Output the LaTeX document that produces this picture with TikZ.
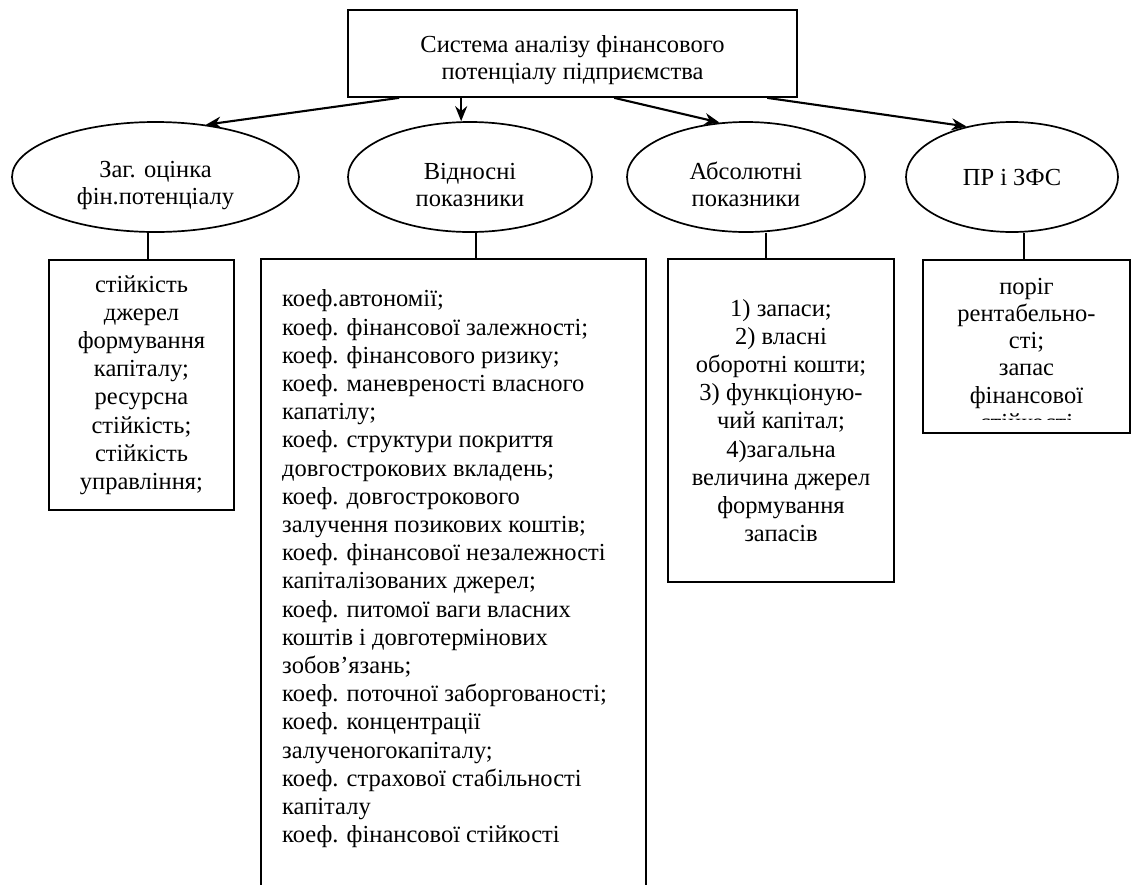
\documentclass[tikz,border=0pt]{standalone}
\usepackage{fontspec}
\setmainfont{Liberation Serif}
\usetikzlibrary{shapes.geometric,arrows.meta,calc}
\newcommand\pushdown[1]{\rule{0pt}{#1}}
\begin{document}
\begin{tikzpicture}[x=1pt,y=-1pt,
  every node/.style={font=\fontsize{24.5}{28.2}\selectfont},
  line/.style={line width=1.9pt},
  arr/.style={line width=2.1pt,-{Stealth[length=15pt,width=12pt]}},
  oval/.style={ellipse,draw,line width=1.7pt,inner sep=0pt,align=center,minimum height=110pt,font=\fontsize{24.5}{27}\selectfont},
  box/.style={rectangle,draw,line width=1.7pt,inner sep=0pt,align=center},
  txt/.style={inner sep=0pt}]
\clip (0,0) rectangle (1131,884);
% top box
\node[box,minimum width=449pt,minimum height=87pt,font=\fontsize{24.5}{27}\selectfont] (top) at (572.5,53.5)
  {\pushdown{31pt}Система аналізу фінансового\\потенціалу підприємства};
% ellipses
\node[oval,minimum width=287pt] (e1) at (155.5,177) {\pushdown{33pt}Заг. оцінка\\фін.потенціалу};
\node[oval,minimum width=244pt] (e2) at (470,177) {\pushdown{33pt}Відносні\\показники};
\node[oval,minimum width=238pt] (e3) at (746,177) {\pushdown{33pt}Абсолютні\\показники};
\node[oval,minimum width=212pt] (e4) at (1012,177) {ПР і ЗФС};
% arrows
\coordinate (s1) at ([xshift=52pt]top.south west);
\coordinate (s2) at ([xshift=114pt]top.south west);
\coordinate (s3) at ([xshift=267pt]top.south west);
\coordinate (s4) at ([xshift=420pt]top.south west);
\draw[arr] (s1) -- (e1.46);
\draw[arr] (s2) -- (s2 |- e2.north);
\draw[arr] (s3) -- (e3.116);
\draw[arr] (s4) -- (e4.132);
% boxes
\node[box,minimum width=185pt,minimum height=250pt] (b1) at (141.5,385)
  {стійкість\\джерел\\формування\\капіталу;\\ресурсна\\стійкість;\\стійкість\\управління;};
\node[box,minimum width=385pt,minimum height=700pt] (b2) at (453.5,609) {};
\node[txt,anchor=north west,align=left] (t2) at (282,287)
  {\strut коеф.автономії;\\
   коеф. фінансової залежності;\\
   коеф. фінансового ризику;\\
   коеф. маневреності власного\\
   капатілу;\\
   коеф. структури покриття\\
   довгострокових вкладень;\\
   коеф. довгострокового\\
   залучення позикових коштів;\\
   коеф. фінансової незалежності\\
   капіталізованих джерел;\\
   коеф. питомої ваги власних\\
   коштів і довготермінових\\
   зобов’язань;\\
   коеф. поточної заборгованості;\\
   коеф. концентрації\\
   залученогокапіталу;\\
   коеф. страхової стабільності\\
   капіталу\\
   коеф. фінансової стійкості};
\node[box,minimum width=226pt,minimum height=323pt] (b3) at (781,420.5)
  {1) запаси;\\2) власні\\оборотні кошти;\\3) функціоную-\\чий капітал;\\4)загальна\\величина джерел\\формування\\запасів};
\node[box,minimum width=207pt,minimum height=173pt] (b4) at (1026.5,346.5) {};
\begin{scope}
\clip (923,260) rectangle (1131,419);
\node[txt,anchor=north,align=center,font=\fontsize{24.5}{27.2}\selectfont] (t4) at (1026.5,275)
  {\strut поріг\\рентабельно-\\сті;\\запас\\фінансової\\стійкості};
\end{scope}
% connectors
\coordinate (c1) at (148,0);
\coordinate (c2) at (476,0);
\coordinate (c3) at (766,0);
\coordinate (c4) at (1024,0);
\draw[line] (c1 |- e1.south) -- (c1 |- b1.north);
\draw[line] (c2 |- e2.south) -- (c2 |- b2.north);
\draw[line] (c3 |- e3.south) -- (c3 |- b3.north);
\draw[line] (c4 |- e4.south) -- (c4 |- b4.north);
\end{tikzpicture}
\end{document}
